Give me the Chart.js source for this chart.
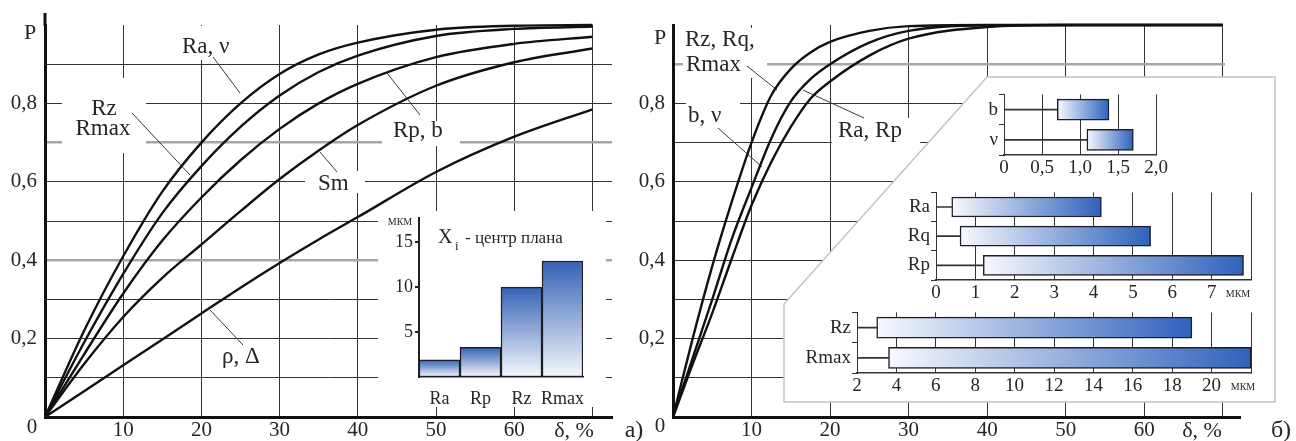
<!DOCTYPE html>
<html lang="ru">
<head>
<meta charset="utf-8">
<title>P(δ)</title>
<script src="https://cdn.jsdelivr.net/npm/chart.js@4.4.1/dist/chart.umd.min.js"></script>
<style>
  html, body { margin: 0; padding: 0; background: #fff; }
  #page { position: relative; width: 1296px; height: 441px; overflow: hidden; background: #fff; }
  #page canvas { position: absolute; }
</style>
</head>
<body>
<div id="page">
  <canvas id="chartA" width="650" height="441" style="left:0;top:0"></canvas>
  <canvas id="chartB" width="667" height="441" style="left:629px;top:0"></canvas>
  <canvas id="insetXi" width="228" height="210" style="left:378px;top:205px"></canvas>
  <canvas id="insetBN" width="190" height="95" style="left:980px;top:82px"></canvas>
  <canvas id="insetR" width="360" height="125" style="left:900px;top:180px"></canvas>
  <canvas id="insetRz" width="470" height="100" style="left:800px;top:300px"></canvas>
</div>
<script>
// ---------------------------
// data, panel а)
// ---------------------------
const deltaA    = [0, 5, 10, 15, 20, 25, 30, 35, 40, 50, 60, 70];
const pRaNu     = [0, 0.22, 0.41, 0.575, 0.70, 0.80, 0.875, 0.925, 0.955, 0.988, 0.998, 1.0];
const pRzRmax   = [0, 0.19, 0.365, 0.52, 0.64, 0.74, 0.82, 0.88, 0.922, 0.972, 0.99, 0.996];
const pRpB      = [0, 0.16, 0.315, 0.45, 0.56, 0.655, 0.735, 0.80, 0.85, 0.918, 0.952, 0.97];
const pSm       = [0, 0.135, 0.255, 0.355, 0.44, 0.525, 0.607, 0.68, 0.745, 0.845, 0.905, 0.94];
const pRhoDelta = [0, 0.066, 0.132, 0.198, 0.264, 0.33, 0.393, 0.453, 0.51, 0.625, 0.715, 0.785];

// inset а): X_i - центр плана
const xiCats = ['Ra', 'Rp', 'Rz', 'Rmax'];
const xiVals = [1.9, 3.3, 10.0, 12.9];
const xiTicks = [5, 10, 15];

// ---------------------------
// data, panel б)
// ---------------------------
const deltaB  = [0, 2.5, 5, 7.5, 10, 12.5, 15, 17.5, 20, 25, 30, 40, 50, 60, 70];
const pBRzRq  = [0, 0.20, 0.385, 0.55, 0.70, 0.82, 0.888, 0.93, 0.957, 0.985, 0.997, 1, 1, 1, 1];
const pBbNu   = [0, 0.15, 0.30, 0.455, 0.585, 0.71, 0.805, 0.862, 0.90, 0.955, 0.985, 0.999, 1, 1, 1];
const pBRaRp  = [0, 0.135, 0.265, 0.405, 0.54, 0.65, 0.74, 0.812, 0.856, 0.922, 0.965, 0.995, 1, 1, 1];

const bnCats = ['b', 'ν'];
const bnFrom = [0.70, 1.09];
const bnTo   = [1.38, 1.70];
const bnTicks = [0, 0.5, 1.0, 1.5, 2.0];

const rCats = ['Ra', 'Rq', 'Rp'];
const rFrom = [0.40, 0.61, 1.20];
const rTo   = [4.20, 5.45, 7.81];
const rTicks = [0, 1, 2, 3, 4, 5, 6, 7, 8];

const rzCats = ['Rz', 'Rmax'];
const rzFrom = [3.0, 3.6];
const rzTo   = [19.0, 22.0];
const rzTicks = [2, 4, 6, 8, 10, 12, 14, 16, 18, 20, 22];

// shared axis ticks of the two big panels
const deltaTicks = [0, 10, 20, 30, 40, 50, 60, 70];
const pGrid = [0.1, 0.2, 0.3, 0.4, 0.5, 0.6, 0.7, 0.8, 0.9];
const pLabelled = [0.2, 0.4, 0.6, 0.8];

const SERIF = '"Liberation Serif", "DejaVu Serif", serif';
const INK = '#262626';

// ---------------------------
// small drawing helpers
// ---------------------------
function put(ctx, s, x, y, size, align) {
  ctx.save();
  ctx.font = size + 'px ' + SERIF;
  ctx.fillStyle = INK;
  ctx.textAlign = align || 'left';
  ctx.textBaseline = 'alphabetic';
  ctx.fillText(s, x, y);
  ctx.restore();
}

function smallCaps(ctx, s, x, y, size) {
  ctx.save();
  ctx.font = 'small-caps ' + size + 'px ' + SERIF;
  if ('fontVariantCaps' in ctx) ctx.fontVariantCaps = 'small-caps';
  ctx.fillStyle = INK;
  ctx.textAlign = 'center';
  ctx.fillText(s, x, y);
  ctx.restore();
}

function lead(ctx, x1, y1, x2, y2) {
  ctx.save();
  ctx.strokeStyle = '#3a3a3a';
  ctx.lineWidth = 1;
  ctx.beginPath();
  ctx.moveTo(x1, y1);
  ctx.lineTo(x2, y2);
  ctx.stroke();
  ctx.restore();
}

function blank(ctx, x, y, w, h) {
  ctx.save();
  ctx.fillStyle = '#fff';
  ctx.fillRect(x, y, w, h);
  ctx.restore();
}

// plugin that works in page coordinates
function deco(id, offX, offY, under, over) {
  return {
    id: id,
    beforeDatasetsDraw(chart) {
      if (!under) return;
      const ctx = chart.ctx;
      ctx.save();
      ctx.translate(-offX, -offY);
      under(ctx);
      ctx.restore();
    },
    afterDraw(chart) {
      if (!over) return;
      const ctx = chart.ctx;
      ctx.save();
      ctx.translate(-offX, -offY);
      over(ctx);
      ctx.restore();
    }
  };
}

const round1 = v => Math.round(v * 10) / 10;

// ---------------------------
// big panels
// ---------------------------
function mainChart(id, series, xMax, axisW, padRight, grayRows, plugin) {
  return new Chart(document.getElementById(id), {
    type: 'line',
    data: {
      datasets: series.map(s => ({
        data: s.xs.map((x, i) => ({ x: x, y: s.ys[i] })),
        borderColor: '#111',
        borderWidth: 2.4,
        pointRadius: 0,
        cubicInterpolationMode: 'monotone',
        clip: false
      }))
    },
    options: {
      responsive: false,
      animation: false,
      devicePixelRatio: 1,
      events: [],
      layout: { padding: { top: 25, right: padRight, left: 0, bottom: 0 } },
      plugins: { legend: { display: false }, tooltip: { enabled: false } },
      scales: {
        x: {
          type: 'linear', min: 0, max: xMax,
          afterBuildTicks: s => { s.ticks = deltaTicks.map(v => ({ value: v })); },
          afterFit: s => { s.height = 24; },
          grid: { color: '#333', lineWidth: 1, drawTicks: false },
          border: { color: '#111', width: 3 },
          ticks: {
            padding: 1, color: INK, maxRotation: 0, autoSkip: false,
            font: { family: SERIF, size: 21 },
            callback: v => (v === 0 || v === 70) ? '' : String(v)
          }
        },
        y: {
          type: 'linear', min: 0, max: 1,
          afterBuildTicks: s => { s.ticks = pGrid.map(v => ({ value: v })); },
          afterFit: s => { s.width = axisW; },
          grid: {
            drawTicks: false,
            color: c => grayRows.includes(round1(c.tick.value)) ? '#a6a6a6' : '#333',
            lineWidth: c => grayRows.includes(round1(c.tick.value)) ? 2.5 : 1
          },
          border: { color: '#111', width: 3 },
          ticks: {
            padding: 8, color: INK,
            font: { family: SERIF, size: 21 },
            callback: v => pLabelled.includes(round1(v)) ? v.toFixed(1).replace('.', ',') : ''
          }
        }
      }
    },
    plugins: [plugin]
  });
}

// ---------------------------
// inset а): bar chart
// ---------------------------
function vGrad(c) {
  const ch = c.chart;
  if (!ch.chartArea) return '#7f9bd3';
  const ys = ch.scales.y;
  const g = ch.ctx.createLinearGradient(0, ys.getPixelForValue(c.raw), 0, ys.getPixelForValue(0));
  g.addColorStop(0, '#3562b6');
  g.addColorStop(1, '#f6f8fd');
  return g;
}

// ---------------------------
// insets б): range bars
// ---------------------------
function hGrad(c) {
  const ch = c.chart;
  if (!ch.chartArea) return '#8fa8d8';
  const xs = ch.scales.x;
  const g = ch.ctx.createLinearGradient(xs.getPixelForValue(c.raw[0]), 0, xs.getPixelForValue(c.raw[1]), 0);
  g.addColorStop(0, '#f7f9fd');
  g.addColorStop(1, '#2f62bd');
  return g;
}

function rangeChart(id, cats, from, to, ticks, fmt, yW, padR, xH, thick, unit) {
  const min = ticks[0], max = ticks[ticks.length - 1];
  return new Chart(document.getElementById(id), {
    type: 'bar',
    data: {
      labels: cats,
      datasets: [
        { data: from.map(v => [min, v]), backgroundColor: '#333', borderWidth: 0, barThickness: 1, grouped: false },
        { data: from.map((v, i) => [v, to[i]]), backgroundColor: hGrad, borderColor: '#1e1e28',
          borderWidth: 1.5, borderSkipped: false, barThickness: thick, grouped: false }
      ]
    },
    options: {
      indexAxis: 'y',
      responsive: false, animation: false, devicePixelRatio: 1, events: [],
      layout: { padding: { top: 8, right: padR, left: 0, bottom: 0 } },
      plugins: { legend: { display: false }, tooltip: { enabled: false } },
      scales: {
        x: {
          type: 'linear', min: min, max: max,
          afterBuildTicks: s => { s.ticks = ticks.map(v => ({ value: v })); },
          afterFit: s => { s.height = xH; },
          grid: { color: '#333', lineWidth: 1, drawTicks: false },
          border: { color: '#333', width: 1.5 },
          ticks: { padding: 2, color: INK, maxRotation: 0, autoSkip: false,
                   font: { family: SERIF, size: 19 }, callback: fmt }
        },
        y: {
          afterFit: s => { s.width = yW; },
          grid: { drawOnChartArea: false, drawTicks: true, tickLength: 5, color: '#333', lineWidth: 1 },
          border: { color: '#333', width: 1 },
          ticks: { padding: 1, color: INK, font: { family: SERIF, size: 19 } }
        }
      }
    },
    plugins: unit ? [unit] : []
  });
}

mainChart('chartA', [
  { xs: deltaA, ys: pRaNu },
  { xs: deltaA, ys: pRzRmax },
  { xs: deltaA, ys: pRpB },
  { xs: deltaA, ys: pSm },
  { xs: deltaA, ys: pRhoDelta }
], 72.5, 45, 38, [0.4, 0.7], deco('decoA', 0, 0, ctx => {
  [[180, 26, 64, 34], [62, 78, 84, 75], [305, 171, 60, 22], [382, 121, 78, 25], [378, 211, 228, 196]]
    .forEach(b => blank(ctx, b[0], b[1], b[2], b[3]));
  put(ctx, 'Ra, ν', 182, 53, 23);
  put(ctx, 'Rz', 104, 115, 23, 'center');
  put(ctx, 'Rmax', 103, 135, 23, 'center');
  put(ctx, 'Rp, b', 393, 137, 23);
  put(ctx, 'Sm', 318, 190, 23);
  put(ctx, 'ρ, Δ', 222, 363, 23);
  lead(ctx, 213, 57, 240, 93);
  lead(ctx, 132, 113, 190, 175);
  lead(ctx, 420, 115, 387, 73);
  lead(ctx, 337, 172, 320, 152);
  lead(ctx, 243, 345, 210, 310);
}, ctx => {
  ctx.save();
  ctx.strokeStyle = '#111';
  ctx.lineWidth = 3;
  ctx.beginPath();
  ctx.moveTo(45, 26);
  ctx.lineTo(45, 13);
  ctx.stroke();
  ctx.restore();
  put(ctx, 'P', 30, 39, 22, 'center');
  put(ctx, '0', 32, 433, 21, 'center');
  put(ctx, 'δ, %', 574, 437, 22, 'center');
  put(ctx, 'а)', 634, 437, 24, 'center');
}));

mainChart('chartB', [
  { xs: deltaB, ys: pBRzRq },
  { xs: deltaB, ys: pBbNu },
  { xs: deltaB, ys: pBRaRp }
], 72.2, 44, 56, [0.9], deco('decoB', 629, 0, ctx => {
  [[683, 28, 84, 50], [686, 100, 54, 27], [832, 118, 88, 48], [1225, 20, 20, 58]]
    .forEach(b => blank(ctx, b[0], b[1], b[2], b[3]));
  // panel for the range insets
  ctx.save();
  ctx.beginPath();
  ctx.moveTo(784, 402);
  ctx.lineTo(784, 304);
  ctx.lineTo(987, 77);
  ctx.lineTo(1275, 77);
  ctx.lineTo(1275, 402);
  ctx.closePath();
  ctx.fillStyle = '#fff';
  ctx.fill();
  ctx.strokeStyle = '#c4c4c4';
  ctx.lineWidth = 1.5;
  ctx.stroke();
  ctx.restore();
  put(ctx, 'Rz, Rq,', 685, 46, 23);
  put(ctx, 'Rmax', 686, 71, 23);
  put(ctx, 'b, ν', 688, 122, 23);
  put(ctx, 'Ra, Rp', 838, 137, 23);
  lead(ctx, 747, 66, 777, 90);
  lead(ctx, 718, 128, 762, 167);
  lead(ctx, 864, 118, 803, 90);
}, ctx => {
  put(ctx, 'P', 660, 44, 22, 'center');
  put(ctx, '0', 660, 432, 21, 'center');
  put(ctx, 'δ, %', 1202, 437, 22, 'center');
  put(ctx, 'б)', 1281, 437, 24, 'center');
}));

new Chart(document.getElementById('insetXi'), {
  type: 'bar',
  data: {
    labels: xiCats,
    datasets: [{
      data: xiVals,
      backgroundColor: vGrad,
      borderColor: '#1e1e28',
      borderWidth: 1.5,
      borderSkipped: false,
      barPercentage: 1,
      categoryPercentage: 1
    }]
  },
  options: {
    responsive: false, animation: false, devicePixelRatio: 1, events: [],
    layout: { padding: { top: 12, right: 23, left: 0, bottom: 6 } },
    plugins: { legend: { display: false }, tooltip: { enabled: false } },
    scales: {
      x: {
        afterFit: s => { s.height = 32; },
        grid: { display: false },
        border: { color: '#222', width: 1.5 },
        ticks: { padding: 3, color: INK, maxRotation: 0, minRotation: 0, autoSkip: false,
                 font: { family: SERIF, size: 18 } }
      },
      y: {
        min: 0, max: 17.7,
        afterBuildTicks: s => { s.ticks = xiTicks.map(v => ({ value: v })); },
        afterFit: s => { s.width = 41; },
        grid: { drawOnChartArea: false, drawTicks: true, tickLength: 4, color: '#222', lineWidth: 2 },
        border: { color: '#222', width: 2 },
        ticks: { padding: 2, color: INK, font: { family: SERIF, size: 18 } }
      }
    }
  },
  plugins: [deco('decoXi', 378, 205, null, ctx => {
    smallCaps(ctx, 'мкм', 400, 225, 14);
    put(ctx, 'X', 438, 243, 20);
    put(ctx, 'i', 455, 250, 13);
    put(ctx, '- центр плана', 465, 243, 17);
  })]
});

rangeChart('insetBN', bnCats, bnFrom, bnTo, bnTicks,
  v => v === 0 ? '0' : v.toFixed(1).replace('.', ','), 24, 7, 22, 21, null);

rangeChart('insetR', rCats, rFrom, rTo, rTicks,
  v => v === 8 ? '' : String(v), 36, 9, 25, 20,
  deco('unitR', 900, 180, null, ctx => smallCaps(ctx, 'мкм', 1238, 297, 14)));

rangeChart('insetRz', rzCats, rzFrom, rzTo, rzTicks,
  v => v === 22 ? '' : String(v), 57, 19, 27, 21,
  deco('unitRz', 800, 300, null, ctx => smallCaps(ctx, 'мкм', 1243, 390, 14)));
</script>
</body>
</html>
